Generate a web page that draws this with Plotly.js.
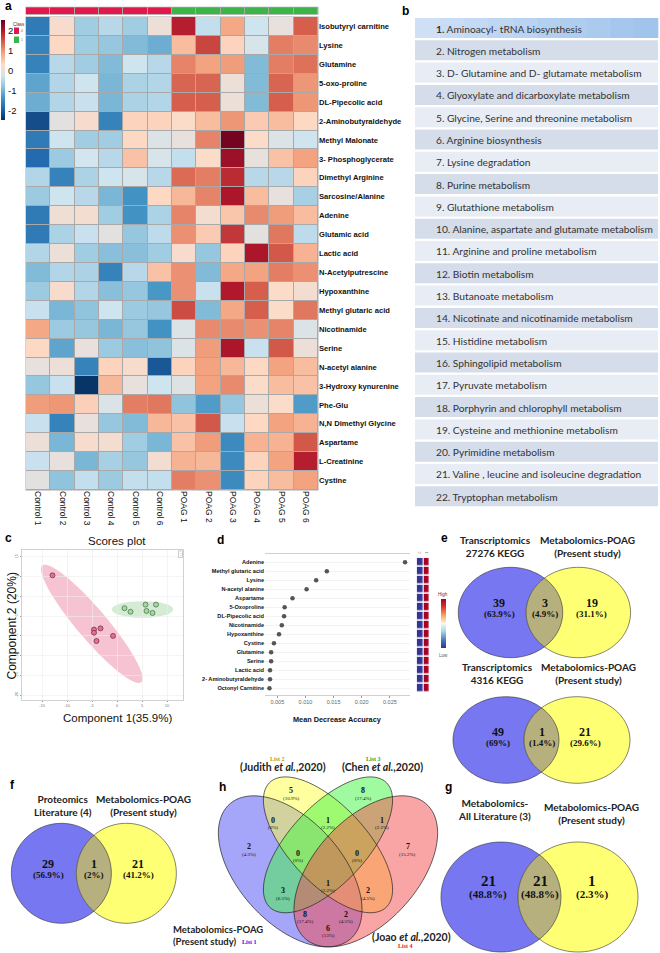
<!DOCTYPE html>
<html><head><meta charset="utf-8">
<script src="https://cdn.plot.ly/plotly-3.0.1.min.js"></script>
<style>html,body{margin:0;padding:0;background:#fff}#chart{width:660px;height:953px}</style>
</head><body><div id="chart"></div>
<script>
// ---------------- DATA ----------------
const samples=['Control 1','Control 2','Control 3','Control 4','Control 5','Control 6','POAG 1','POAG 2','POAG 3','POAG 4','POAG 5','POAG 6'];
const sampleClass=[0,0,0,0,0,0,1,1,1,1,1,1];
const metabolites=['Isobutyryl carnitine','Lysine','Glutamine','5-oxo-proline','DL-Pipecolic acid','2-Aminobutyraldehyde','Methyl Malonate','3- Phosphoglycerate','Dimethyl Arginine','Sarcosine/Alanine','Adenine','Glutamic acid','Lactic acid','N-Acetylputrescine','Hypoxanthine','Methyl glutaric acid','Nicotinamide','Serine','N-acetyl alanine','3-Hydroxy kynurenine','Phe-Glu','N,N Dimethyl Glycine','Aspartame','L-Creatinine','Cystine'];
const heatValues=[
 [-1.7, 0.2,-0.7,-0.5,-0.7, 0.05, 1.9,-0.4, 0.8,-0.3, 0.0, 1.4],
 [-1.6, 0.3,-0.7,-0.8,-0.95,-1.1, 0.6, 1.6, 0.35,-0.2, 1.15, 1.05],
 [-1.6,-0.5,-0.7,-0.95,-0.3,-0.5, 1.1, 0.85, 0.9,-0.95, 1.15, 1.25],
 [-1.2,-0.55,-0.3,-1.0,-0.6,-0.55, 1.35, 1.35, 0.05,-0.95, 1.35, 0.95],
 [-1.1,-0.55,-0.35,-1.0,-0.6,-0.55, 1.4, 1.4, 0.05,-0.95, 1.4, 0.95],
 [-2.2,-0.05, 0.2,-1.6, 0.35, 0.35, 0.25, 0.6, 0.95, 0.45, 0.6, 0.3],
 [-1.7,-0.3,-0.7,-0.7, 0.3,-0.15, 0.0, 1.1, 2.4, 0.25,-0.15,-0.3],
 [-1.9,-0.75,-0.25,-0.5, 0.55,-0.2,-0.4, 0.25, 2.1, 0.0, 0.55, 0.85],
 [-0.55,-1.6,-0.6,-0.3,-0.2,-0.5, 1.3, 1.15, 1.8,-0.5,-0.5, 0.35],
 [-0.75,-0.3,-0.5,-1.0,-1.4, 0.3, 0.65, 1.1, 2.0, 0.6, 0.0,-0.65],
 [-1.7, 0.1, 0.15,-0.7,-1.4,-0.6, 1.1, 0.15, 0.5, 1.05, 0.9, 0.6],
 [-1.7,-0.6,-0.35,-0.05,-0.8,-0.45, 1.0, 0.45, 1.7,-0.05, 1.2,-0.45],
 [-0.55, 0.05,-0.7,-0.9,-0.9,-0.7, 0.2,-0.8, 0.35, 2.0, 1.45, 0.7],
 [-0.95,-0.55,-0.6,-1.6,-0.5, 0.55, 1.0,-0.95, 0.8, 0.85, 1.15, 1.0],
 [-0.75, 0.2,-0.55,-0.9,-0.8,-1.35, 1.0,-0.35, 1.95, 1.4, 0.25, 0.15],
 [-0.35,-1.0,-0.85,-0.3,-0.75,-0.8, 1.55,-0.95, 0.8, 1.4, 0.25, 1.2],
 [ 0.8,-0.75,-0.8,-1.0,-0.8,-1.4,-0.15, 1.05, 1.05, 1.0, 1.1,-0.15],
 [ 0.3,-1.2, 0.0,-0.75,-0.9,-0.85,-0.15, 0.9, 2.0,-0.35, 1.45, 0.05],
 [ 0.0, 0.05,-1.6, 0.35, 0.2,-2.1, 0.35, 0.85, 0.65, 0.3, 0.85, 0.6],
 [-0.8,-0.35,-2.45, 0.65, 0.0,-0.3,-0.1, 0.85, 1.05, 0.25, 0.6, 0.55],
 [ 0.9, 0.95, 0.4,-0.15, 1.15, 1.2,-0.85,-1.3,-0.8, 0.05, 0.25,-1.3],
 [-0.35,-1.6, 0.0,-0.8,-0.95, 0.65, 0.55, 1.45,-0.35, 0.3, 0.85, 0.7],
 [ 0.05,-1.0, 0.2, 0.15,-0.7,-1.0, 0.55, 0.9,-1.5, 0.7, 0.7, 1.45],
 [-0.35, 0.0,-1.0,-0.65,-0.8, 0.15, 0.7, 0.65,-1.5, 0.35, 0.85, 1.9],
 [-0.05,-0.85,-0.4,-0.75,-0.4,-0.4, 1.15, 1.0,-1.5, 0.35, 0.6, 0.85]
];
const heatTicks=[-2,-1,0,1,2];
const pathways=['1. Aminoacyl- tRNA biosynthesis','2. Nitrogen metabolism','3. D- Glutamine and D- glutamate metabolism','4. Glyoxylate and dicarboxylate metabolism','5. Glycine, Serine and threonine metabolism','6. Arginine biosynthesis','7. Lysine degradation','8. Purine metabolism','9. Glutathione metabolism','10. Alanine, aspartate and glutamate metabolism','11. Arginine and proline metabolism','12. Biotin metabolism','13. Butanoate metabolism','14. Nicotinate and nicotinamide metabolism','15. Histidine metabolism','16. Sphingolipid metabolism','17. Pyruvate metabolism','18. Porphyrin and chlorophyll metabolism','19. Cysteine and methionine metabolism','20. Pyrimidine metabolism','21. Valine , leucine and isoleucine degradation','22. Tryptophan metabolism'];
const ctrlPC1=[-12.9,-4.6,-4.6,-3.3,-4.1,-0.8];
const ctrlPC2=[10.3,-3.4,-4.2,-3.1,-6.3,-5.0];
const poagPC1=[1.5,2.7,5.7,5.9,7.1,7.8];
const poagPC2=[2.0,1.1,2.9,1.3,0.8,2.9];
const scoreTicksX=[-15,-10,-5,0,5,10];
const scoreTicksY=[-20,-15,-10,-5,0,5,10,15];
const vipNames=['Adenine','Methyl glutaric acid','Lysine','N-acetyl alanine','Aspartame','5-Oxoproline','DL-Pipecolic acid','Nicotinamide','Hypoxanthine','Cystine','Glutamine','Serine','Lactic acid','2- Aminobutyraldehyde','Octonyl Carnitine'];
const vipMDA=[0.0277,0.0138,0.0119,0.0102,0.0077,0.0063,0.0062,0.0058,0.0053,0.0044,0.0039,0.0039,0.0037,0.0037,0.0036];
const vipGroups=['0','1'];
const vipGroupLevel=[0,1];
const mdaTicks=[0.005,0.010,0.015,0.020,0.025];
const vennE1Titles=['Transcriptomics<br>27276 KEGG','Metabolomics-POAG<br>(Present study)'];
const vennE1Counts=[39,3,19]; const vennE1Pct=['63.9%','4.9%','31.1%'];
const vennE2Titles=['Transcriptomics<br>4316 KEGG','Metabolomics-POAG<br>(Present study)'];
const vennE2Counts=[49,1,21]; const vennE2Pct=['69%','1.4%','29.6%'];
const vennFTitles=['Proteomics<br>Literature (4)','Metabolomics-POAG<br>(Present study)'];
const vennFCounts=[29,1,21]; const vennFPct=['56.9%','2%','41.2%'];
const vennGTitles=['Metabolomics-<br>All Literature (3)','Metabolomics-POAG<br>(Present study)'];
const vennGCounts=[21,21,1]; const vennGPct=['48.8%','48.8%','2.3%'];
const hRegionCounts=[5,8,0,1,1,2,0,0,7,3,1,2,8,2,6];
const hRegionPct=['10.9%','17.4%','0%','2.2%','2.2%','4.3%','0%','0%','15.2%','6.5%','2.2%','4.5%','17.4%','4.5%','13%'];

// ---------------- HELPERS ----------------
const W=660,H=953;
const SANS='"Liberation Sans", Arial, sans-serif';
const CAL='Lato, "Open Sans", sans-serif';
const SERIF='"Liberation Serif", "Times New Roman", serif';
const X=p=>p/W, Y=p=>1-p/H;
const shapes=[], anns=[];
function A(px,py,text,font,o){anns.push(Object.assign({xref:'paper',yref:'paper',x:X(px),y:Y(py),text:text,showarrow:false,xanchor:'center',yanchor:'middle',font:Object.assign({family:SANS,size:9,color:'#111'},font||{})},o||{}));}
function R(x0,y0,x1,y1,fill,line,layer){shapes.push({type:'rect',xref:'paper',yref:'paper',x0:X(x0),x1:X(x1),y0:Y(y1),y1:Y(y0),fillcolor:fill,line:line||{width:0},layer:layer||'above'});}
function pathPx(pts){return 'M'+pts.map(p=>X(p[0]).toFixed(5)+','+Y(p[1]).toFixed(5)).join('L')+'Z';}
function P(pts,fill,line){shapes.push({type:'path',xref:'paper',yref:'paper',path:pathPx(pts),fillcolor:fill||'rgba(0,0,0,0)',line:line||{width:0},layer:'above'});}
function ellPts(cx,cy,a,b,n){const r=[];n=n||90;for(let i=0;i<n;i++){const t=2*Math.PI*i/n;r.push([cx+a*Math.cos(t),cy+b*Math.sin(t)]);}return r;}

// ---------------- PANEL LABELS ----------------
[['a',8,6],['b',405,11],['c',8,538],['d',220,540],['e',445,538],['f',13,785],['h',222,787],['g',448,787]].forEach(l=>A(l[1],l[2],l[0],{size:12,weight:'bold',color:'#000'}));

// ---------------- PANEL A ----------------
const hx0=26,hx1=318,hy0=17,hy1=490;
R(hx0-0.5,hy0-0.5,hx1+0.5,hy1+0.5,'#a9a9a9',null,'below');
R(hx0-0.5,6.8,hx1+0.5,14.8,'#a9a9a9',null,'below');
const bwm=['#053061','#2166AC','#4393C3','#92C5DE','#D1E5F0','#FDDBC7','#F4A582','#D6604D','#B2182B','#67001F'].map((c,i)=>[i/9,c]);
const data=[];
const cbMid=70.5, cbLen=100, cbMax=2.5;
data.push({type:'heatmap',z:heatValues,x:samples,y:metabolites,xaxis:'x',yaxis:'y',colorscale:bwm,zmin:-cbMax,zmax:cbMax,xgap:1,ygap:1,hoverinfo:'skip',
 colorbar:{x:X(1),xanchor:'left',xpad:0,ypad:0,thickness:3.5,thicknessmode:'pixels',len:cbLen/H,lenmode:'fraction',y:Y(cbMid),yanchor:'middle',outlinewidth:0,showticklabels:false,ticks:''}});
heatTicks.forEach(v=>A(5.5,cbMid-v*cbLen/(2*cbMax),String(v),{size:9.5,color:'#111'},{xanchor:'left'}));
data.push({type:'heatmap',z:[sampleClass],x:samples,y:['Class'],xaxis:'x2',yaxis:'y2',colorscale:[[0,'#e0184c'],[0.5,'#e0184c'],[0.5,'#3bb54a'],[1,'#3bb54a']],zmin:0,zmax:1,xgap:1,showscale:false,hoverinfo:'skip'});
A(18.5,24,'Class',{size:4.5,color:'#333'});
R(14,27.5,19,34,'#e0184c'); R(14,36.5,19,43,'#3bb54a');
A(21.5,31,'0',{size:3.5,color:'#666'}); A(21.5,40,'1',{size:3.5,color:'#666'});

// ---------------- PANEL B ----------------
pathways.forEach((t,i)=>{
  const top=18+i*22.3;
  if(i===0){
    const n=10; for(let k=0;k<n;k++){const f=k/(n-1);const r=Math.round(206-46*f),g=Math.round(223-27*f),b=Math.round(246-10*f);R(415+k*24.3,top,415+(k+1)*24.3+0.3,top+20,`rgb(${r},${g},${b})`);}
    A(434,top+10.5,t.replace(/^(\d+\.)/,'<b>$1</b>'),{size:10.2,family:CAL,color:'#333'},{xanchor:'left'});
  } else {
    R(415,top,658,top+20,i%2?'#d5dcea':'#e8ecf4');
    A(434,top+10.5,t,{size:10.2,family:CAL,color:'#333'},{xanchor:'left'});
  }
});

// ---------------- PANEL C ----------------
A(117,541,'Scores plot',{size:11.5,color:'#111'});
A(117,718,'Component 1(35.9%)',{size:11.5,color:'#111'});
A(11.5,626,'Component 2 (20%)',{size:12,color:'#111'},{textangle:-90});
const pinkC=[-5.05,-1.95], pinkA=[9.9,-14.75], pinkB=[2.3,2.45];
let ep=[];for(let i=0;i<=72;i++){const t=2*Math.PI*i/72;ep.push([pinkC[0]+Math.cos(t)*pinkA[0]+Math.sin(t)*pinkB[0],pinkC[1]+Math.cos(t)*pinkA[1]+Math.sin(t)*pinkB[1]]);}
shapes.push({type:'path',xref:'x3',yref:'y3',path:'M'+ep.map(p=>p[0].toFixed(3)+','+p[1].toFixed(3)).join('L')+'Z',fillcolor:'rgba(233,122,155,0.45)',line:{width:0},layer:'below'});
shapes.push({type:'circle',xref:'x3',yref:'y3',x0:5.1-6.15,x1:5.1+6.15,y0:1.68-2.1,y1:1.68+2.1,fillcolor:'rgba(167,218,167,0.5)',line:{width:0},layer:'below'});
data.push({type:'scatter',mode:'markers',x:ctrlPC1,y:ctrlPC2,xaxis:'x3',yaxis:'y3',marker:{size:5,color:'#e46f92',line:{color:'#6b2a3c',width:0.7}},hoverinfo:'skip'});
data.push({type:'scatter',mode:'markers',x:poagPC1,y:poagPC2,xaxis:'x3',yaxis:'y3',marker:{size:5,color:'#a5d6a5',line:{color:'#3f6b3f',width:0.7}},hoverinfo:'skip'});
R(178.5,550.8,182.5,557.5,'#fff',{color:'#999',width:0.5});
A(181.3,553,'0',{size:2.5,color:'#888'}); A(181.3,555.5,'1',{size:2.5,color:'#888'});

// ---------------- PANEL D ----------------
data.push({type:'scatter',mode:'markers',x:vipMDA,y:vipNames,xaxis:'x4',yaxis:'y4',marker:{size:4.5,color:'#555'},hoverinfo:'skip'});
data.push({type:'heatmap',z:vipNames.map(()=>vipGroupLevel),x:vipGroups,y:vipNames,xaxis:'x5',yaxis:'y5',zmin:0,zmax:1,xgap:1.2,ygap:1.6,hoverinfo:'skip',
 colorscale:[[0,'#313695'],[0.15,'#4575b4'],[0.35,'#abd9e9'],[0.5,'#f7f7f0'],[0.65,'#fdae61'],[0.85,'#d73027'],[1,'#a50026']],
 colorbar:{x:X(440.5),xanchor:'left',xpad:0,ypad:0,thickness:4.5,thicknessmode:'pixels',len:49/H,lenmode:'fraction',y:Y(623.5),yanchor:'middle',outlinewidth:0,showticklabels:false,ticks:''}});
A(443,594.5,'High',{size:4.5,color:'#7a2a2a'}); A(443,655,'Low',{size:4.5,color:'#555'});
A(419.5,553,'0',{size:3.5,color:'#777'},{textangle:-90}); A(426.5,553,'1',{size:3.5,color:'#777'},{textangle:-90});
A(337.5,719,'Mean Decrease Accuracy',{size:7.3,weight:'bold',color:'#111'});

// ---------------- VENN (2 sets) ----------------
function venn2(bx0,bx1,yx0,yx1,y0,y1,titles,tpos,counts,pct,npos,nsize,psize){
  const a=((bx1-bx0)+(yx1-yx0))/4,b=(y1-y0)/2,cy=(y0+y1)/2,c1=(bx0+bx1)/2,c2=(yx0+yx1)/2;
  P(ellPts(c1,cy,a,b),'#7777f2'); P(ellPts(c2,cy,a,b),'#ffff73');
  const t0=Math.acos(Math.min(1,(c2-c1)/(2*a))),lens=[];
  for(let i=0;i<=30;i++){const t=-t0+2*t0*i/30;lens.push([c1+a*Math.cos(t),cy+b*Math.sin(t)]);}
  for(let i=0;i<=30;i++){const s=Math.PI-t0+2*t0*i/30;lens.push([c2+a*Math.cos(s),cy+b*Math.sin(s)]);}
  P(lens,'#b5b07e');
  P(ellPts(c1,cy,a,b),null,{color:'#333',width:0.6}); P(ellPts(c2,cy,a,b),null,{color:'#333',width:0.6});
  titles.forEach((t,i)=>A(tpos[i][0],tpos[i][1],t,{size:10,family:CAL,weight:'bold',color:'#222'}));
  counts.forEach((c,i)=>{A(npos[i][0],npos[i][1],String(c),{size:nsize,family:SERIF,weight:'bold',color:'#111'});A(npos[i][0],npos[i][1]+nsize*0.9,'('+pct[i]+')',{size:psize,family:SERIF,weight:'bold',color:'#111'});});
}
venn2(457.7,563.3,526.7,630,567.3,657.7,vennE1Titles,[[495.5,546],[587,546]],vennE1Counts,vennE1Pct,[[499.3,603],[545,603],[591.7,603]],12,9);
venn2(453,559,524,630,696.7,783.3,vennE2Titles,[[497,673.5],[588.3,673.5]],vennE2Counts,vennE2Pct,[[498.3,732],[541.7,732],[585,732]],12,9);
venn2(11.7,111,76,176.7,823.3,923.3,vennFTitles,[[63,805],[143.3,805]],vennFCounts,vennFPct,[[48.3,864],[94,864],[138.3,864]],12,9);
venn2(441,561,518,638,842,952,vennGTitles,[[494,809],[591.7,813.5]],vennGCounts,vennGPct,[[488.3,881],[540,881],[591.7,881]],15,11);

// ---------------- VENN H (4 sets) ----------------
const hEll=[[0.35,0.47,0.35,0.20,135,'rgba(75,75,245,0.5)'],[0.50,0.57,0.33,0.15,135,'rgba(255,255,65,0.5)'],[0.50,0.57,0.33,0.15,45,'rgba(65,245,65,0.5)'],[0.65,0.47,0.35,0.20,45,'rgba(245,75,75,0.5)']];
const hp=(u,v)=>[328+(u-0.5)*252,777+(0.826-v)*265];
function hEllPts(e){const r=[],th=e[4]*Math.PI/180;for(let i=0;i<96;i++){const t=2*Math.PI*i/96;const u=e[0]+e[2]*Math.cos(t)*Math.cos(th)-e[3]*Math.sin(t)*Math.sin(th);const v=e[1]+e[2]*Math.cos(t)*Math.sin(th)+e[3]*Math.sin(t)*Math.cos(th);r.push(hp(u,v));}return r;}
hEll.forEach(e=>P(hEllPts(e),e[5]));
hEll.forEach(e=>P(hEllPts(e),null,{color:'#222',width:0.7}));
const hRegionPos=[[291,790.7],[363.3,790.7],[273.3,820],[328.3,820],[381.7,820],[249.3,846.7],[297.7,853.3],[356.7,853.3],[407.7,846.7],[282.7,890.7],[328.3,883.3],[368.3,890.7],[305,914],[345.7,914],[328.3,928.3]];
hRegionCounts.forEach((c,i)=>{const p=hRegionPos[i];A(p[0],p[1],String(c),{size:8,family:SERIF,weight:'bold',color:'#111'});A(p[0],p[1]+7.5,'('+hRegionPct[i]+')',{size:5,family:SERIF,color:'#111'});});
A(277.3,758.5,'List 2',{size:6,family:SERIF,weight:'bold',color:'#b39a2a'});
A(373.3,758.5,'List 3',{size:6,family:SERIF,weight:'bold',color:'#2f9e2f'});
A(283.3,767,'(Judith <i>et al.</i>,2020)',{size:10.5,family:CAL,weight:'bold',color:'#222'});
A(382.7,767,'(Chen <i>et al.</i>,2020)',{size:10.5,family:CAL,weight:'bold',color:'#222'});
A(411.7,937,'(Joao <i>et al.</i>,2020)',{size:10.5,family:CAL,weight:'bold',color:'#222'});
A(405,945.5,'List 4',{size:6,family:SERIF,weight:'bold',color:'#e02020'});
A(265,935.5,'Metabolomics-POAG<br>(Present study)',{size:9.5,family:CAL,weight:'bold',color:'#222'},{xanchor:'right',align:'left'});
A(249.3,942,'List 1',{size:6,family:SERIF,weight:'bold',color:'#2020e0'});

// ---------------- LAYOUT ----------------
const noAx={showgrid:false,zeroline:false,showticklabels:false,ticks:'',showline:false,fixedrange:true};
const layout={width:W,height:H,margin:{l:0,r:0,t:0,b:0},paper_bgcolor:'#fff',plot_bgcolor:'rgba(0,0,0,0)',showlegend:false,font:{family:SANS,color:'#111'},
 xaxis:{domain:[X(hx0),X(hx1)],anchor:'y',tickangle:90,ticks:'',showgrid:false,zeroline:false,tickfont:{size:8.5,color:'#111'}},
 yaxis:{domain:[Y(hy1),Y(hy0)],anchor:'x',side:'right',autorange:'reversed',ticks:'',showgrid:false,zeroline:false,tickfont:{size:7.6,weight:'bold',color:'#111'}},
 xaxis2:Object.assign({domain:[X(hx0),X(hx1)],anchor:'y2'},noAx),
 yaxis2:Object.assign({domain:[Y(14.3),Y(7.3)],anchor:'x2'},noAx),
 xaxis3:{domain:[X(22),X(183)],anchor:'y3',range:[-19,13.2],tickvals:scoreTicksX,ticktext:scoreTicksX.map(String),showgrid:true,gridcolor:'#ececec',gridwidth:0.6,zeroline:false,showline:true,mirror:true,linecolor:'#bdbdbd',linewidth:0.7,ticks:'outside',ticklen:1.5,tickcolor:'#999',tickfont:{size:4,color:'#777'}},
 yaxis3:{domain:[Y(700),Y(550)],anchor:'x3',range:[-21.2,16.7],tickvals:scoreTicksY,ticktext:scoreTicksY.map(String),showgrid:true,gridcolor:'#ececec',gridwidth:0.6,zeroline:false,showline:true,mirror:true,linecolor:'#bdbdbd',linewidth:0.7,ticks:'outside',ticklen:1.5,tickcolor:'#999',tickfont:{size:4,color:'#777'},tickangle:-90},
 xaxis4:{domain:[X(265),X(410)],anchor:'y4',range:[0.00281,0.02858],tickvals:mdaTicks,ticktext:mdaTicks.map(v=>v.toFixed(3)),showgrid:false,zeroline:false,showline:true,mirror:true,linecolor:'#c4c4c4',linewidth:0.8,ticks:'outside',ticklen:2,tickcolor:'#999',tickfont:{size:5.5,color:'#666'}},
 yaxis4:{domain:[Y(695),Y(554.3)],anchor:'x4',type:'category',categoryarray:vipNames,range:[14.74,-0.89],showgrid:true,gridcolor:'#eeeeee',gridwidth:0.7,zeroline:false,ticks:'',tickfont:{size:5.6,weight:'bold',color:'#111'}},
 xaxis5:Object.assign({domain:[X(416.7),X(430)],anchor:'y5'},noAx),
 yaxis5:Object.assign({domain:[Y(692.8),Y(557.8)],anchor:'x5',autorange:'reversed'},noAx),
 shapes:shapes,annotations:anns};
Plotly.newPlot('chart',data,layout,{staticPlot:true});
</script></body></html>
